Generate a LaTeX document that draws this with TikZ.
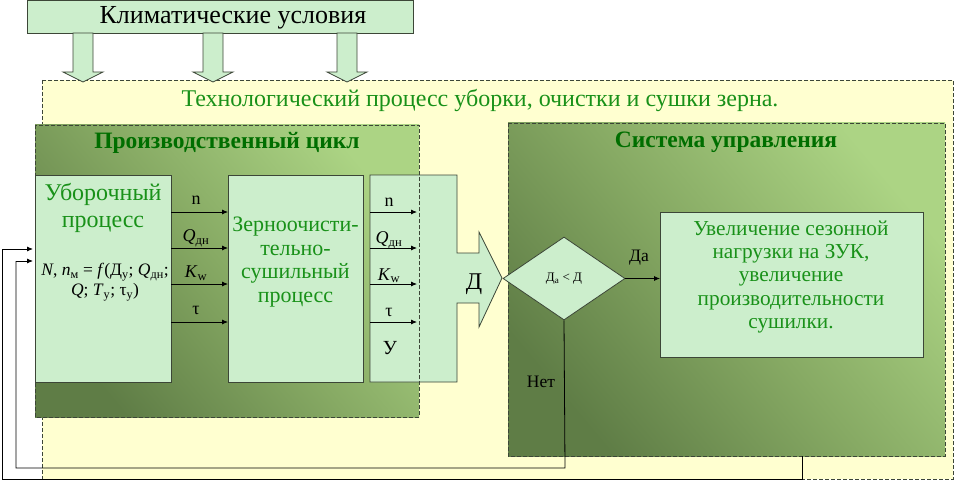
\documentclass[tikz,border=0pt]{standalone}
\usepackage{fontspec}
\setmainfont{Liberation Serif}
\usetikzlibrary{shapes.geometric,arrows.meta}
\definecolor{boxgreen}{RGB}{204,238,204}
\definecolor{cream}{RGB}{255,255,208}
\definecolor{titlegreen}{RGB}{0,110,0}
\definecolor{txtgreen}{RGB}{25,145,25}
\definecolor{edge}{RGB}{60,70,55}
\definecolor{gdark}{RGB}{95,125,70}
\definecolor{gmid}{RGB}{135,170,100}
\definecolor{glight}{RGB}{172,212,132}
\tikzset{
  lbox/.style={draw=edge, fill=boxgreen, line width=0.8pt, anchor=north west, inner sep=0pt},
  dbox/.style={draw=edge, dashed, dash pattern=on 4pt off 2pt, line width=0.8pt},
  gfill/.style={bottom color=gdark, top color=glight, middle color=gmid, shading angle=-50},
  flow/.style={-{Latex[length=6pt,width=5pt]}, line width=0.8pt, black},
  fb/.style={line width=0.8pt, black},
  lab/.style={font=\fontsize{18}{20}\selectfont},
  ttl/.style={font=\bfseries\fontsize{23.5}{26}\selectfont, text=titlegreen},
}
\begin{document}
\begin{tikzpicture}[x=1pt,y=-1pt]
\useasboundingbox (0,0) rectangle (957,481);
% outer technological process area
\fill[cream] (42,80) rectangle (953,479);
\draw[dbox] (42,80) rectangle (953,479);
\node[font=\fontsize{24}{26}\selectfont, text=txtgreen] (tph) at (480,101) {Технологический процесс уборки, очистки и сушки зерна.};
% climate box and arrows
\node[lbox, minimum width=386pt, minimum height=33pt] (clim) at (27,0) {};
\node[font=\fontsize{26}{28}\selectfont] (climt) at (233,18) {Климатические условия};
\foreach \cx/\nm in {83/a1,213/a2,347/a3}{
  \draw[fill=boxgreen, draw=edge, line width=0.8pt]
    (\cx-10,33) -- (\cx+10,33) -- (\cx+10,72) -- (\cx+20,72) -- (\cx,82) -- (\cx-20,72) -- (\cx-10,72) -- cycle;
  \coordinate (\nm) at (\cx,82);
}
% production cycle
\shade[gfill] (35,125) rectangle (419,417);
\node[ttl] (pct) at (227,143) {Производственный цикл};
\node[lbox, minimum width=136pt, minimum height=207pt] (ub) at (35,175) {};
\node[font=\fontsize{24}{27}\selectfont, text=txtgreen, align=center] (ubt) at (103,208) {Уборочный\\процесс};
\node[align=center, font=\fontsize{17.5}{20}\selectfont] (ubf) at (105,282)
  {\textit{N}, \textit{n}\textsubscript{м} = \textit{f}(Д\textsubscript{у}; \textit{Q}\textsubscript{дн};\\\textit{Q}; \textit{T}\textsubscript{у}; τ\textsubscript{у})};
\node[lbox, minimum width=135pt, minimum height=207pt] (zs) at (228,175) {};
\node[text=txtgreen, align=center, font=\fontsize{22}{23.5}\selectfont] (zst) at (295.5,262)
  {Зерноочисти-\\тельно-\\сушильный\\процесс};
% block arrow D
\draw[fill=boxgreen, draw=edge, line width=0.8pt]
  (370,175) -- (457,175) -- (457,253) -- (479,253) -- (479,232) -- (502,278)
  -- (479,327) -- (479,303) -- (457,303) -- (457,382) -- (370,382) -- cycle;
\coordinate (dtip) at (502,278);
\node[font=\fontsize{24}{26}\selectfont] (dlab) at (474,284) {Д};
\draw[dbox] (35,125) rectangle (419,417);
% arrows between processes
\foreach \yy/\lab/\ly in {212/{n}/200, 248/{\textit{Q}\textsubscript{дн}}/238, 284/{\textit{K}\textsubscript{w}}/273, 322/{τ}/310}{
  \coordinate (l\yy) at (171,\yy);
  \coordinate (r\yy) at (228,\yy);
  \draw[flow] (l\yy) -- (r\yy);
  \node[lab] at (196,\ly) {\lab};
  \coordinate (s\yy) at (370,\yy);
  \coordinate (t\yy) at (417,\yy);
  \draw[flow] (s\yy) -- (t\yy);
  \node[lab] at (389,\ly+2.5) {\lab};
}
\node[font=\fontsize{20}{22}\selectfont] (ulab) at (390,348) {У};
% control system
\shade[gfill] (508,123) rectangle (945,456);
\draw[dbox] (508,123) rectangle (945,456);
\node[ttl] (sut) at (726,142) {Система управления};
\node[diamond, draw=edge, fill=boxgreen, line width=0.8pt, minimum width=122pt, minimum height=83pt, inner sep=0pt,
      font=\fontsize{13}{15}\selectfont] (dm) at (564,278.5) {Д\textsubscript{а} < Д};
\node[lbox, minimum width=263pt, minimum height=145pt] (rb) at (660,212) {};
\node[text=txtgreen, align=center, font=\fontsize{21.3}{23.3}\selectfont] (rbt) at (791,277)
  {Увеличение сезонной\\нагрузки на ЗУК,\\увеличение\\производительности\\сушилки.};
\draw[flow] (dm.east) -- (rb.west |- dm.east);
\node[font=\fontsize{17.5}{20}\selectfont] (da) at (639,258) {Да};
\node[font=\fontsize{17.5}{20}\selectfont] (net) at (541,382) {Нет};
% feedback lines
\coordinate (sub) at (802,456);
\coordinate (ubin1) at (33,249);
\coordinate (ubin2) at (33,261);
\draw[fb] (dm.south) -- (565,468) -- (16,468) -- (16,261);
\draw[flow] (16,261) -- (ubin2);
\draw[fb] (sub) -- (802,479.5) -- (2,479.5) -- (2,249);
\draw[flow] (2,249) -- (ubin1);
\end{tikzpicture}
\end{document}
